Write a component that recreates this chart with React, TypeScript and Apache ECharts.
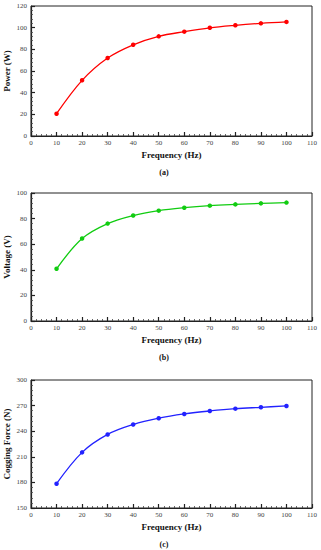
import React, { useEffect, useRef } from "react";
import * as echarts from "echarts";

const frequency = [10, 20, 30, 40, 50, 60, 70, 80, 90, 100];
const power = [20.6, 51.4, 72.0, 84.2, 92.0, 96.3, 99.9, 102.2, 104.0, 105.3];
const voltage = [40.8, 64.4, 76.1, 82.4, 86.2, 88.5, 90.1, 91.1, 91.9, 92.5];
const coggingForce = [178.5, 215.2, 236.2, 247.8, 255.2, 260.2, 263.7, 266.4, 268.0, 269.6];

const panelLabels = ["(a)", "(b)", "(c)"];
const yNames = ["Power (W)", "Voltage (V)", "Cogging Force (N)"];
const yMins = [0, 0, 150];
const yMaxs = [120, 100, 300];
const yIntervals = [20, 20, 30];
const colors = ["#ff0000", "#11cc11", "#2222ff"];

const FONT = "Liberation Serif, Times New Roman, serif";

export default function App() {
  const ref = useRef<HTMLDivElement>(null);
  useEffect(() => {
    const chart = echarts.init(ref.current!, null, { renderer: "svg" });
    const tops = [6, 193, 380];
    const heights = [130, 128, 128];
    const series = [power, voltage, coggingForce];

    const grid = tops.map((t, i) => ({
      left: 31,
      width: 281,
      top: t,
      height: heights[i],
      containLabel: false,
      outerBoundsMode: "none",
      show: true,
      borderColor: "#222",
      borderWidth: 1,
      backgroundColor: "transparent",
    }));

    const axisCommon = {
      axisLine: { show: true, onZero: false, lineStyle: { color: "#222", width: 1.2 } },
      axisTick: { show: true, inside: true, length: 4, lineStyle: { color: "#222", width: 1.2 } },
      minorTick: { show: true, splitNumber: 5, length: 2, lineStyle: { color: "#444", width: 0.8 } },
      splitLine: { show: false },
      axisLabel: { color: "#444", fontFamily: FONT, fontSize: 7 },
      nameTextStyle: { color: "#111", fontFamily: FONT, fontSize: 9, fontWeight: "bold" },
      nameMoveOverlap: false,
    };

    const xAxis = tops.map((_, i) => ({
      ...axisCommon,
      type: "value",
      gridIndex: i,
      min: 0,
      max: 110,
      interval: 10,
      name: "Frequency (Hz)",
      nameLocation: "middle",
      nameGap: 14,
      axisLabel: { ...axisCommon.axisLabel, margin: 3 },
    }));

    const yAxis = tops.map((_, i) => ({
      ...axisCommon,
      type: "value",
      gridIndex: i,
      min: yMins[i],
      max: yMaxs[i],
      interval: yIntervals[i],
      name: yNames[i],
      nameLocation: "middle",
      nameRotate: 90,
      nameGap: 20,
      axisLabel: { ...axisCommon.axisLabel, margin: 4 },
    }));

    const labelYs = [172, 357, 544];

    chart.setOption({
      animation: false,
      grid,
      xAxis,
      yAxis,
      series: series.map((vals, i) => ({
        type: "line",
        xAxisIndex: i,
        yAxisIndex: i,
        data: frequency.map((f, j) => [f, vals[j]]),
        smooth: 0.35,
        symbol: "circle",
        symbolSize: 4.5,
        lineStyle: { color: colors[i], width: 1.3 },
        itemStyle: { color: colors[i] },
      })),
      graphic: panelLabels.map((t, i) => ({
        type: "text",
        x: 164,
        y: labelYs[i],
        style: {
          text: t,
          fontFamily: FONT,
          fontSize: 8,
          fontWeight: "bold",
          fill: "#111",
          align: "center",
          verticalAlign: "middle",
        },
      })),
    });
    return () => chart.dispose();
  }, []);
  return (
    <div
      ref={ref}
      style={{ position: "absolute", left: 0, top: 0, width: 321, height: 550, background: "#fff" }}
    />
  );
}
